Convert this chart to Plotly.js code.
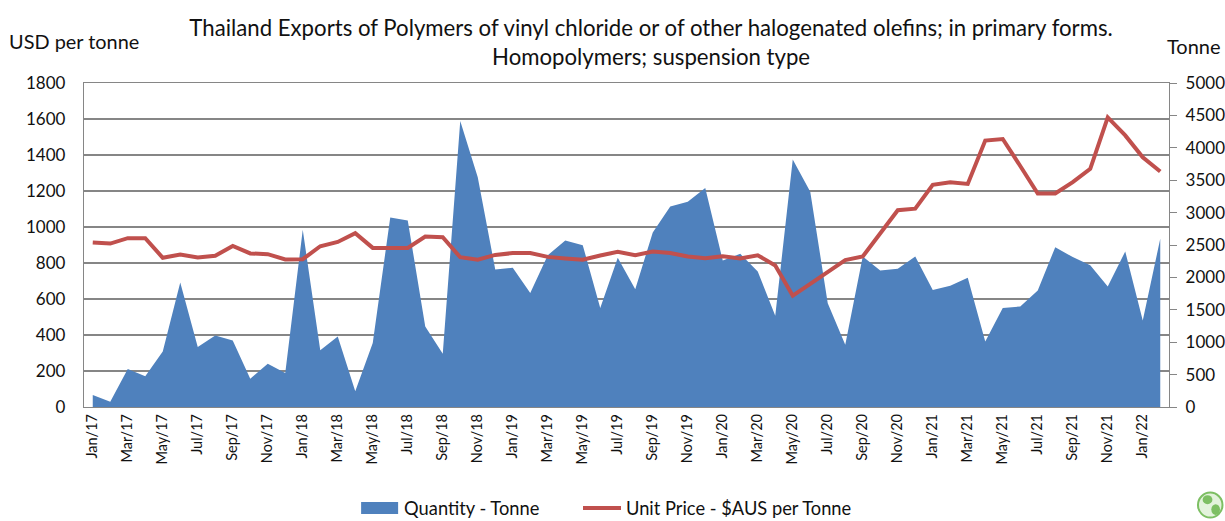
<!DOCTYPE html>
<html>
<head>
<meta charset="utf-8">
<script src="https://cdn.plot.ly/plotly-3.0.1.min.js"></script>
<style>html,body{margin:0;padding:0;background:#fff;overflow:hidden}</style>
</head>
<body>
<div id="chart" style="width:1225px;height:521px"></div>
<script>
const months = ['Jan/17','Feb/17','Mar/17','Apr/17','May/17','Jun/17','Jul/17','Aug/17','Sep/17','Oct/17','Nov/17','Dec/17',
'Jan/18','Feb/18','Mar/18','Apr/18','May/18','Jun/18','Jul/18','Aug/18','Sep/18','Oct/18','Nov/18','Dec/18',
'Jan/19','Feb/19','Mar/19','Apr/19','May/19','Jun/19','Jul/19','Aug/19','Sep/19','Oct/19','Nov/19','Dec/19',
'Jan/20','Feb/20','Mar/20','Apr/20','May/20','Jun/20','Jul/20','Aug/20','Sep/20','Oct/20','Nov/20','Dec/20',
'Jan/21','Feb/21','Mar/21','Apr/21','May/21','Jun/21','Jul/21','Aug/21','Sep/21','Oct/21','Nov/21','Dec/21',
'Jan/22','Feb/22'];
const quantityTonne = [185,82,586,473,858,1922,925,1105,1028,437,668,524,
2734,874,1089,242,987,2924,2878,1244,822,4414,3546,2122,
2148,1758,2343,2570,2498,1526,2302,1819,2693,3094,3166,3381,
2261,2364,2092,1408,3818,3320,1603,961,2323,2107,2133,2323,
1804,1871,1994,1012,1526,1552,1799,2467,2313,2189,1860,2400,
1336,2595];
const unitPrice = [914,908,938,938,829,847,831,840,895,853,849,820,
821,893,917,966,884,886,884,947,943,832,818,845,
855,855,834,825,818,842,862,843,864,856,836,827,
838,825,843,786,618,684,747,816,836,969,1093,1102,
1234,1249,1239,1480,1489,1339,1186,1186,1249,1323,1609,1509,
1387,1308];

const gridGrey = '#868686';
const txt = '#111111';
const font = 'Lato, "Open Sans", sans-serif';

const traces = [
  {name:'Quantity - Tonne', x:months, y:quantityTonne, type:'scatter', mode:'none',
   fill:'tozeroy', fillcolor:'#4f81bd', xaxis:'x', yaxis:'y', legend:'legend'},
  {name:'Unit Price - $AUS per Tonne', x:months, y:unitPrice, type:'scatter', mode:'lines',
   line:{color:'#c0504d', width:4, shape:'linear'}, xaxis:'x', yaxis:'y2', legend:'legend2'}
];

const legendCommon = {orientation:'h', xanchor:'left', y:-0.312, yanchor:'middle', yref:'paper',
  font:{family:font, size:18.3, color:txt}, itemwidth:38, bgcolor:'rgba(0,0,0,0)'};

const layout = {
  width:1225, height:521,
  margin:{l:84, r:56, t:83, b:114, autoexpand:false},
  paper_bgcolor:'#fff', plot_bgcolor:'#fff',
  font:{family:font, color:txt, size:17},
  title:{text:'Thailand Exports of Polymers of vinyl chloride or of other halogenated olefins; in primary forms.<br>Homopolymers; suspension type',
    font:{family:font, size:22.2, color:txt}, x:0.5315, xanchor:'center', y:0.931, yanchor:'middle'},
  showlegend:true,
  legend:Object.assign({x:0.2508}, legendCommon),
  legend2:Object.assign({x:0.4553}, legendCommon),
  xaxis:{type:'category', categoryorder:'array', categoryarray:months, range:[-0.5,61.5], dtick:2, tick0:0,
    tickangle:-90, tickfont:{family:font, size:14.5, color:txt}, showgrid:false, ticks:'',
    showline:true, mirror:true, linecolor:gridGrey, linewidth:1.2, fixedrange:true},
  yaxis:{side:'right', range:[0,5000], dtick:500, showgrid:false, ticks:'outside', ticklen:7, tickcolor:gridGrey,
    ticklabelstandoff:5, tickfont:{family:font, size:17, color:txt}, showline:true, linecolor:gridGrey, linewidth:1.2, zeroline:false},
  yaxis2:{overlaying:'y', side:'left', range:[0,1800], dtick:200, showgrid:true, gridcolor:gridGrey, gridwidth:1.2, ticks:'',
    ticklabelstandoff:14, tickfont:{family:font, size:17, color:txt}, showline:true, linecolor:gridGrey, linewidth:1.2, zeroline:false},
  annotations:[
    {text:'USD per tonne', xref:'paper', yref:'paper', x:-0.0710, xanchor:'left', y:1.129, yanchor:'middle', showarrow:false, font:{family:font, size:19.9, color:txt}},
    {text:'Tonne', xref:'paper', yref:'paper', x:0.9963, xanchor:'left', y:1.114, yanchor:'middle', showarrow:false, font:{family:font, size:20, color:txt}}
  ],
  shapes:[
    {type:'circle', xref:'paper', yref:'paper', x0:1.0267, x1:1.0493, y0:-0.3410, y1:-0.2640, fillcolor:'#e3f3dc', line:{color:'#7dbf63', width:2}},
    {type:'circle', xref:'paper', yref:'paper', x0:1.0310, x1:1.0400, y0:-0.3000, y1:-0.2720, fillcolor:'#7dbf63', line:{width:0}},
    {type:'circle', xref:'paper', yref:'paper', x0:1.0390, x1:1.0470, y0:-0.3330, y1:-0.3000, fillcolor:'#7dbf63', line:{width:0}}
  ]
};
Plotly.newPlot('chart', traces, layout, {displayModeBar:false, staticPlot:true}).then(() => {
  const p = document.querySelector('#chart .legendfill path');
  if (p) p.setAttribute('d', 'M5,-6h37v12h-37z');
});
</script>
</body>
</html>
